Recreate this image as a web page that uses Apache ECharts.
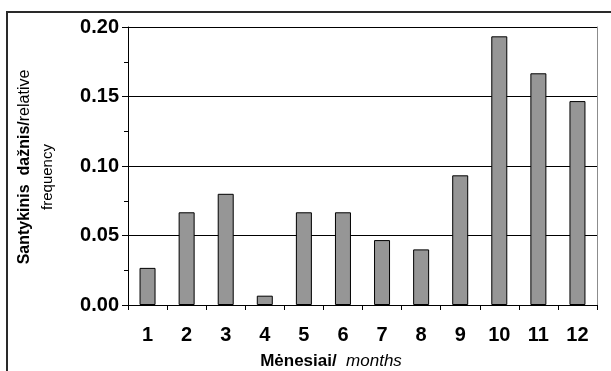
<!DOCTYPE html>
<html>
<head>
<meta charset="utf-8">
<script src="https://cdn.jsdelivr.net/npm/echarts@6/dist/echarts.min.js"></script>
<style>
html,body{margin:0;padding:0;background:#fff;}
#c{width:611px;height:371px;}
</style>
</head>
<body>
<div id="c"></div>
<script>
var months = ['1','2','3','4','5','6','7','8','9','10','11','12'];
var frequency = [0.0267, 0.0667, 0.0800, 0.0067, 0.0667, 0.0667, 0.0467, 0.0400, 0.0933, 0.1933, 0.1667, 0.1467];
var yTicks = [0, 0.05, 0.10, 0.15, 0.20];

var FONT = '"Liberation Sans", Arial, sans-serif';
var chart = echarts.init(document.getElementById('c'), null, {renderer: 'canvas'});
chart.setOption({
  animation: false,
  backgroundColor: '#fff',
  grid: {left: 128, right: 14, top: 27, bottom: 66, containLabel: false},
  xAxis: {
    type: 'category',
    data: months,
    boundaryGap: true,
    axisLine: {show: true, lineStyle: {color: '#000', width: 1}},
    axisTick: {show: true, length: 5, alignWithLabel: false, lineStyle: {color: '#000'}},
    axisLabel: {color: '#000', fontFamily: FONT, fontWeight: 'bold', fontSize: 20, margin: 20},
    splitLine: {show: false}
  },
  yAxis: [{
    type: 'value',
    min: yTicks[0],
    max: yTicks[yTicks.length - 1],
    interval: 0.05,
    axisLine: {show: true, lineStyle: {color: '#000', width: 1}},
    axisTick: {show: true, length: 6, lineStyle: {color: '#000'}},
    minorTick: {show: true, splitNumber: 2, length: 4, lineStyle: {color: '#000'}},
    axisLabel: {color: '#000', fontFamily: FONT, fontWeight: 'bold', fontSize: 20, margin: 9,
      formatter: function (v) { return v.toFixed(2); }},
    splitLine: {show: true, lineStyle: {color: '#000', width: 1}}
  }, {
    type: 'value',
    position: 'right',
    min: yTicks[0],
    max: yTicks[yTicks.length - 1],
    interval: 0.05,
    axisLine: {show: true, lineStyle: {color: '#8c8c8c', width: 1}},
    axisTick: {show: false},
    axisLabel: {show: false},
    splitLine: {show: false}
  }],
  series: [{
    type: 'bar',
    data: frequency,
    barWidth: 16,
    itemStyle: {color: '#969696', borderColor: '#000', borderWidth: 1}
  }],
  graphic: [
    {type: 'rect', shape: {x: 7, y: 12, width: 800, height: 600},
     style: {fill: 'none', stroke: '#2a2a2a', lineWidth: 2}, silent: true, z: 100},
    {type: 'text', x: 25, y: 167, rotation: Math.PI / 2,
     style: {text: '{b|Santykinis  dažnis/}{n|relative}', align: 'center', verticalAlign: 'middle',
       rich: {b: {fontFamily: FONT, fontWeight: 'bold', fontSize: 16, fill: '#000'},
              n: {fontFamily: FONT, fontSize: 16, fill: '#000'}}}},
    {type: 'text', x: 48, y: 177, rotation: Math.PI / 2,
     style: {text: 'frequency', fontFamily: FONT, fontSize: 15, fill: '#000', align: 'center', verticalAlign: 'middle'}},
    {type: 'text', x: 331, y: 361,
     style: {text: '{b|Mėnesiai/}{i|  months}', align: 'center', verticalAlign: 'middle',
       rich: {b: {fontFamily: FONT, fontWeight: 'bold', fontSize: 17, fill: '#000'},
              i: {fontFamily: FONT, fontStyle: 'italic', fontSize: 17, fill: '#000'}}}}
  ]
});
</script>
</body>
</html>
